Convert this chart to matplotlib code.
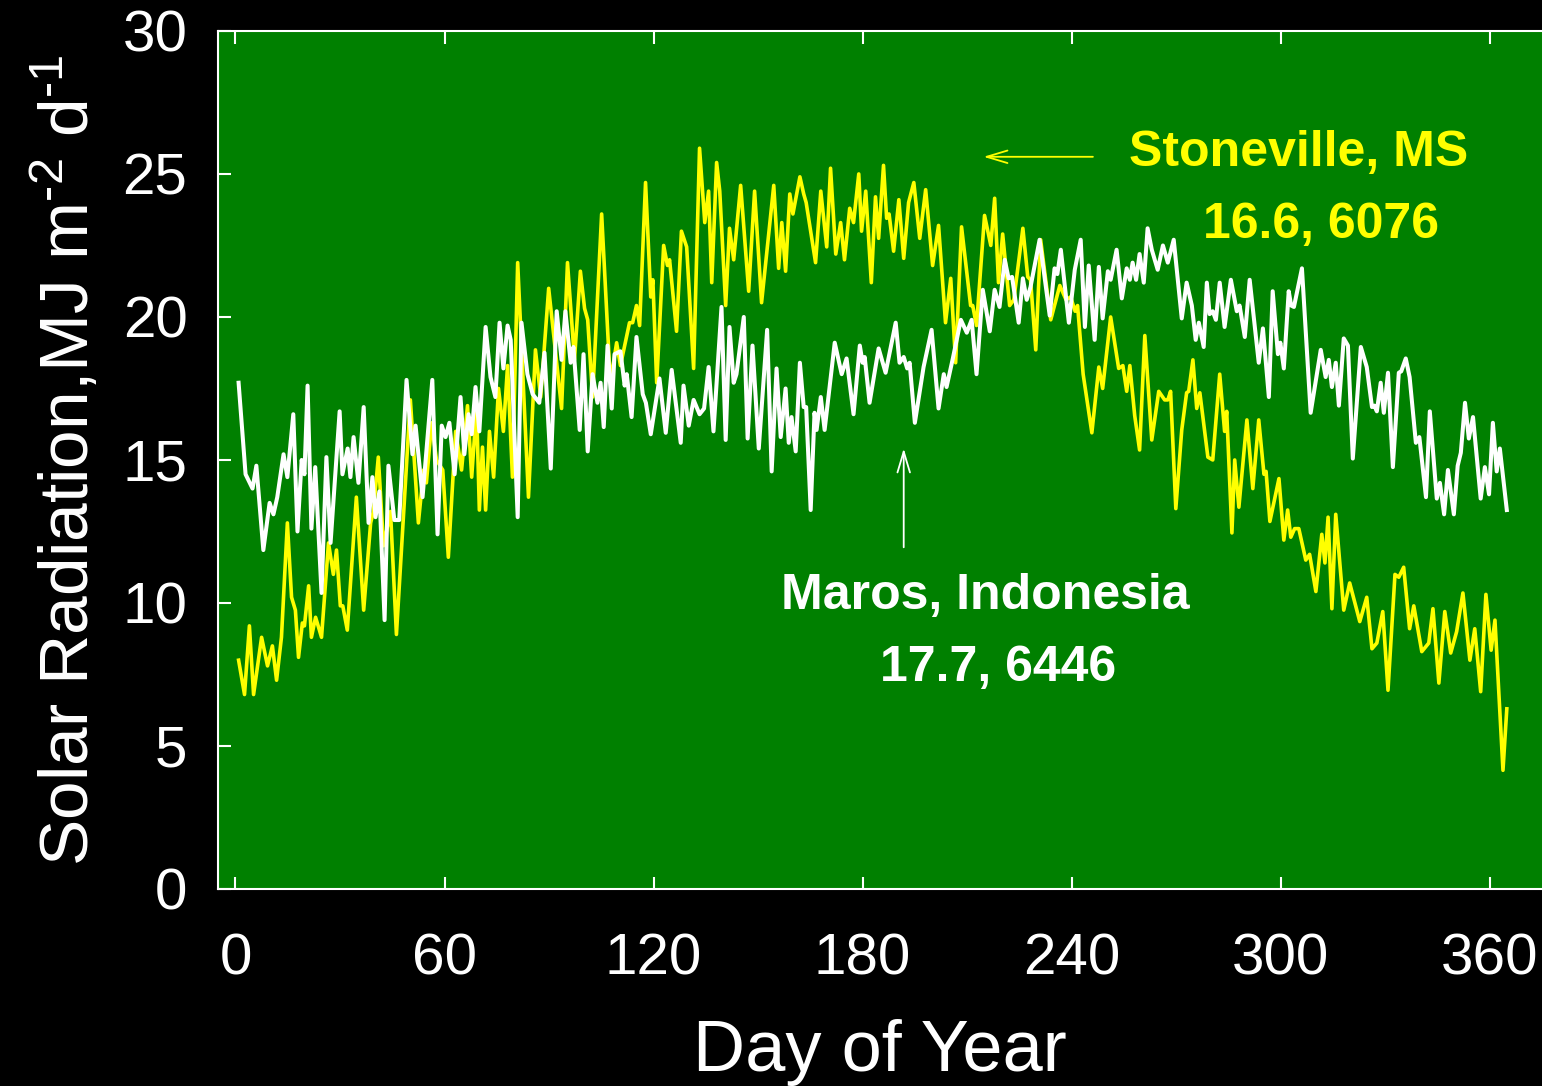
import matplotlib.pyplot as plt

plt.rcParams["font.family"] = ["Liberation Sans", "DejaVu Sans"]
plt.rcParams["mathtext.fontset"] = "custom"
plt.rcParams["mathtext.rm"] = "Liberation Sans"
plt.rcParams["mathtext.it"] = "Liberation Sans"
plt.rcParams["mathtext.default"] = "regular"

# Maros, Indonesia (white)
maros_day = [0.9, 2.9, 4.9, 6.0, 8.0, 9.8, 10.9, 12.0, 13.8, 14.9, 16.6, 17.8, 19.0, 19.8, 20.7,
             21.8, 22.9, 24.7, 26.1, 27.3, 29.9, 30.7, 32.2, 33.0, 33.9, 35.3, 36.8, 38.2, 39.3,
             40.2, 41.3, 42.8, 43.9, 45.6, 47.0, 49.1, 50.8, 51.7, 53.7, 56.5, 58.0, 59.2, 60.3,
             61.4, 62.9, 64.6, 65.7, 66.9, 67.8, 68.9, 70.0, 71.8, 73.2, 74.6, 75.8, 76.9, 78.1,
             79.0, 81.0, 82.1, 83.8, 85.3, 87.2, 88.7, 90.5, 92.2, 93.6, 94.7, 96.2, 97.0, 98.8,
             99.9, 101.1, 102.5, 103.9, 104.8, 105.7, 106.8, 108.0, 108.8, 110.5, 111.7, 112.3,
             113.7, 115.1, 116.9, 117.8, 119.2, 121.7, 123.5, 125.2, 127.8, 128.6, 130.1, 131.5,
             133.2, 134.5, 135.8, 137.2, 139.5, 140.7, 141.8, 143.0, 143.8, 145.9, 147.0, 148.4,
             150.2, 152.6, 153.9, 155.3, 156.5, 157.9, 158.8, 159.6, 160.8, 162.0, 163.1, 163.8,
             165.1, 166.2, 166.8, 168.0, 169.1, 172.0, 174.0, 175.4, 177.4, 179.2, 180.0, 180.6,
             182.0, 184.6, 186.6, 189.5, 190.6, 191.8, 192.8, 193.5, 195.0, 197.5, 199.8, 201.8,
             203.3, 204.1, 205.9, 208.2, 209.9, 211.3, 212.7, 214.5, 216.5, 217.9, 219.3, 220.8,
             221.9, 222.9, 224.8, 226.0, 227.1, 228.2, 230.8, 233.7, 235.1, 235.9, 236.9, 239.2,
             240.9, 242.6, 243.8, 244.9, 246.6, 247.8, 248.9, 250.4, 251.2, 252.9, 254.4, 255.8,
             256.7, 257.5, 258.5, 259.5, 260.7, 261.8, 263.0, 264.7, 266.2, 267.6, 269.3, 271.6,
             273.0, 274.5, 275.6, 276.5, 277.9, 278.8, 279.6, 280.5, 281.4, 282.5, 283.9, 285.7,
             287.4, 288.2, 289.7, 291.1, 293.7, 294.9, 296.6, 297.7, 299.2, 299.9, 300.9, 302.3,
             303.0, 303.8, 306.1, 308.6, 311.5, 312.9, 313.8, 314.7, 315.8, 316.7, 318.1, 319.3,
             320.7, 323.0, 324.7, 326.2, 326.9, 327.6, 328.7, 329.6, 330.8, 332.2, 333.9, 334.6,
             335.9, 337.0, 338.8, 339.8, 341.7, 342.8, 344.8, 345.7, 346.9, 348.0, 349.7, 350.8,
             351.7, 352.9, 354.0, 355.2, 357.4, 358.6, 359.8, 360.9, 362.0, 362.9, 364.9]
maros_val = [17.7, 14.5, 14.0, 14.8, 11.85, 13.5, 13.1, 13.7, 15.2, 14.4, 16.6, 12.5, 15.0, 14.5, 17.6,
             12.6, 14.75, 10.35, 15.1, 12.1, 16.7, 14.5, 15.4, 14.4, 15.8, 14.2, 16.85, 12.8, 14.4,
             13.0, 13.9, 9.4, 14.8, 12.9, 12.9, 17.8, 15.2, 16.2, 13.7, 17.8, 12.4, 16.2, 15.8,
             16.3, 14.5, 17.2, 15.2, 16.6, 15.9, 17.55, 16.0, 19.65, 17.9, 17.2, 19.8, 18.2, 19.7,
             19.2, 13.0, 19.8, 18.0, 17.3, 17.0, 18.75, 14.7, 20.2, 18.5, 20.2, 18.4, 18.95, 16.05,
             18.7, 15.3, 18.0, 17.0, 17.7, 16.15, 19.0, 16.8, 18.7, 18.8, 17.6, 18.0,
             16.5, 19.3, 17.3, 17.0, 15.9, 17.85, 15.95, 18.15, 15.6, 17.6, 16.2, 17.1,
             16.6, 16.8, 18.25, 16.0, 20.35, 15.7, 19.65, 17.7, 18.0, 20.0, 15.75, 19.0,
             15.4, 19.55, 14.6, 18.2, 15.8, 17.5, 15.6, 16.5, 15.3, 18.4, 16.85, 16.85,
             13.25, 16.65, 16.05, 17.2, 16.05, 19.1, 18.0, 18.55, 16.6, 19.0, 18.4, 18.6,
             17.0, 18.9, 18.05, 19.8, 18.4, 18.6, 18.2, 18.4, 16.3, 18.25, 19.55, 16.8,
             18.0, 17.55, 18.55, 19.9, 19.45, 19.9, 18.0, 20.95, 19.5, 20.95, 20.35, 22.0,
             21.35, 21.4, 19.8, 21.35, 20.6, 21.05, 22.7, 20.05, 21.7, 21.5, 22.35, 19.8,
             21.65, 22.7, 19.65, 21.8, 19.2, 21.75, 19.95, 21.6, 21.3, 22.35, 20.65, 21.7,
             21.3, 21.9, 21.3, 22.2, 21.2, 23.1, 22.35, 21.65, 22.5, 21.9, 22.7, 19.95,
             21.2, 20.4, 19.2, 19.8, 18.95, 21.2, 20.1, 20.2, 19.9, 21.2, 19.65, 21.3,
             20.2, 20.4, 19.3, 21.3, 18.4, 19.6, 17.2, 20.9, 18.7, 19.1, 18.2, 20.9,
             20.4, 20.35, 21.7, 16.65, 18.85, 17.9, 18.5, 17.55, 18.4, 16.9, 19.25, 19.0,
             15.05, 18.95, 18.25, 16.85, 16.9, 16.7, 17.7, 16.65, 18.05, 14.75, 18.05, 18.1,
             18.55, 17.9, 15.6, 15.8, 13.7, 16.7, 13.65, 14.2, 13.1, 14.65, 13.1, 14.8,
             15.25, 17.0, 15.75, 16.5, 13.65, 14.75, 13.8, 16.3, 14.6, 15.4, 13.25]

# Stoneville, MS (yellow)
stone_day = [0.9, 2.6, 4.0, 5.2, 7.5, 9.2, 10.6, 11.8, 13.2, 14.9, 16.1, 17.2, 18.1, 19.2, 19.8,
             21.0, 21.8, 23.0, 24.7, 26.7, 28.1, 29.0, 30.1, 30.8, 32.1, 34.7, 36.8, 38.8, 39.6,
             41.0, 42.5, 44.5, 46.2, 50.2, 52.5, 54.0, 54.8, 56.3, 57.7, 59.5, 61.1, 63.2, 64.9,
             66.6, 67.8, 69.2, 70.0, 70.9, 71.8, 72.9, 74.1, 75.5, 76.9, 78.1, 79.5, 81.0, 84.1,
             86.1, 87.6, 89.9, 93.6, 95.3, 97.3, 99.0, 100.2, 101.1, 102.5, 105.1, 107.6, 109.4,
             110.5, 113.1, 114.0, 115.1, 116.0, 117.7, 119.2, 119.8, 120.9, 122.9, 124.0, 124.6,
             126.6, 128.0, 129.5, 131.5, 133.2, 134.7, 135.8, 136.7, 138.1, 139.0, 140.7, 141.8,
             143.0, 145.0, 147.3, 149.0, 151.0, 154.5, 155.9, 156.8, 157.9, 159.1, 160.0, 162.0,
             163.1, 163.8, 166.5, 168.0, 169.7, 170.8, 172.3, 173.7, 174.8, 176.3, 177.4, 178.9,
             179.7, 180.9, 182.5, 183.7, 184.6, 186.0, 186.9, 187.6, 188.9, 190.4, 191.8, 193.2,
             194.7, 196.4, 198.1, 200.1, 201.8, 203.8, 205.3, 206.7, 208.4, 211.0, 211.6, 212.7,
             215.0, 216.8, 217.9, 219.0, 220.2, 222.2, 223.4, 226.0, 227.4, 228.2, 229.7, 231.1,
             234.0, 236.6, 238.4, 239.7, 241.0, 241.7, 243.3, 245.8, 247.8, 248.9, 251.2, 253.5,
             254.7, 255.8, 256.7, 258.1, 259.5, 261.0, 263.0, 265.0, 266.7, 267.6, 268.4, 269.9,
             271.6, 273.0, 273.6, 274.8, 275.9, 276.8, 279.1, 280.5, 282.5, 283.9, 284.5, 286.0,
             286.8, 288.0, 290.3, 292.0, 293.7, 295.2, 295.8, 296.9, 299.5, 300.9, 302.0, 302.9,
             304.0, 305.2, 307.2, 308.3, 310.1, 311.8, 312.7, 313.6, 314.7, 315.8, 318.1, 319.8,
             322.7, 324.7, 326.2, 327.6, 329.3, 330.8, 332.8, 333.9, 335.3, 337.0, 338.2, 340.5,
             342.5, 343.7, 345.4, 347.1, 348.8, 350.5, 352.3, 354.3, 355.7, 357.4, 358.9, 360.4,
             361.5, 363.8, 364.9]
stone_val = [8.0, 6.8, 9.2, 6.8, 8.8, 7.8, 8.5, 7.3, 8.8, 12.8, 10.2, 9.75, 8.1, 9.3, 9.2,
             10.6, 8.8, 9.5, 8.8, 12.1, 11.0, 11.85, 9.9, 9.9, 9.05, 13.7, 9.75, 12.8, 13.2,
             15.1, 12.0, 13.2, 8.9, 17.1, 12.8, 14.65, 14.2, 16.3, 15.0, 14.65, 11.6, 16.0, 14.65,
             16.9, 14.4, 16.85, 13.25, 15.45, 13.25, 16.0, 14.4, 17.5, 16.0, 18.3, 14.4, 21.9, 13.7,
             18.85, 17.2, 21.0, 16.8, 21.9, 18.5, 21.6, 20.3, 19.9, 17.2, 23.6, 17.7, 19.1,
             18.3, 19.8, 19.8, 20.4, 19.7, 24.7, 20.7, 21.3, 17.7, 22.5, 21.8, 22.0,
             19.5, 23.0, 22.45, 18.2, 25.9, 23.3, 24.4, 21.2, 25.4, 24.4, 20.4, 23.1,
             22.0, 24.6, 20.9, 24.4, 20.5, 24.6, 21.7, 23.3, 21.6, 24.3, 23.6, 24.9,
             24.3, 24.0, 21.9, 24.4, 22.45, 25.2, 22.2, 23.3, 22.0, 23.8, 23.3, 25.0,
             23.0, 24.4, 21.2, 24.2, 22.75, 25.3, 23.45, 23.6, 22.3, 24.1, 22.05, 24.0,
             24.7, 22.75, 24.45, 21.8, 23.2, 19.8, 21.35, 18.4, 23.15, 20.4, 20.4, 19.7,
             23.55, 22.5, 24.15, 21.2, 22.9, 20.4, 20.6, 23.1, 21.4, 21.3, 18.85, 22.7,
             19.9, 21.1, 20.6, 20.7, 20.2, 20.4, 18.0, 15.95, 18.25, 17.5, 20.0, 18.2,
             18.3, 17.4, 18.3, 16.55, 15.35, 19.35, 15.7, 17.4, 17.1, 17.1, 17.4, 13.3,
             16.05, 17.35, 17.4, 18.5, 16.8, 17.35, 15.1, 15.0, 18.0, 16.0, 16.7, 12.45,
             15.0, 13.35, 16.4, 14.0, 16.4, 14.5, 14.6, 12.85, 14.35, 12.2, 13.25, 12.3,
             12.6, 12.6, 11.5, 11.7, 10.4, 12.4, 11.4, 13.0, 9.8, 13.1, 9.75, 10.7,
             9.35, 10.2, 8.4, 8.6, 9.7, 6.95, 11.0, 10.9, 11.25, 9.1, 9.9, 8.3,
             8.6, 9.8, 7.2, 9.7, 8.25, 9.0, 10.35, 8.0, 9.1, 6.9, 10.3, 8.35,
             9.4, 4.15, 6.3]

x_ticks = [0, 60, 120, 180, 240, 300, 360]
y_ticks = [0, 5, 10, 15, 20, 25, 30]

fig = plt.figure(figsize=(15.42, 10.86), dpi=100, facecolor="black")
ax = fig.add_axes([0.1414, 0.1814, 0.8586, 0.7901])
ax.set_facecolor("#008000")

ax.plot(stone_day, stone_val, color="#ffff00", linewidth=2.6, solid_joinstyle="round")
ax.plot(maros_day, maros_val, color="white", linewidth=2.9, solid_joinstyle="round")

ax.set_xlim(-5, 375)
ax.set_ylim(0, 30)
ax.set_xticks(x_ticks)
ax.set_yticks(y_ticks)

for side, sp in ax.spines.items():
    sp.set_color("white")
    sp.set_linewidth(1.5)
ax.spines["right"].set_visible(False)

ax.tick_params(axis="both", direction="in", color="white", labelcolor="white",
               labelsize=42, length=9, width=1.5, top=True)
ax.tick_params(axis="x", pad=31)
ax.tick_params(axis="y", pad=22)

ax.set_xlabel("Day of Year", color="white", fontsize=52, labelpad=24)
ax.set_ylabel("Solar Radiation,MJ m$^{\u2010 2}$ d$^{\u2010 1}$", color="white", fontsize=50, labelpad=14)

ax.text(305.2, 25.73, "Stoneville, MS", color="#ffff00", fontsize=36, fontweight="bold",
        ha="center", va="center")
ax.text(311.5, 23.2, "16.6, 6076", color="#ffff00", fontsize=36, fontweight="bold",
        ha="center", va="center")
ax.text(215.3, 10.24, "Maros, Indonesia", color="white", fontsize=36, fontweight="bold",
        ha="center", va="center")
ax.text(218.8, 7.73, "17.7, 6446", color="white", fontsize=36, fontweight="bold",
        ha="center", va="center")

ax.annotate("", xy=(213.9, 25.6), xytext=(246.9, 25.6),
            arrowprops=dict(arrowstyle="->,head_length=1.5,head_width=0.45", color="#ffff00", lw=1.3))
ax.annotate("", xy=(191.8, 15.5), xytext=(191.8, 11.85),
            arrowprops=dict(arrowstyle="->,head_length=1.5,head_width=0.45", color="white", lw=1.3))

fig.savefig("out.png", dpi=100, facecolor="black")
